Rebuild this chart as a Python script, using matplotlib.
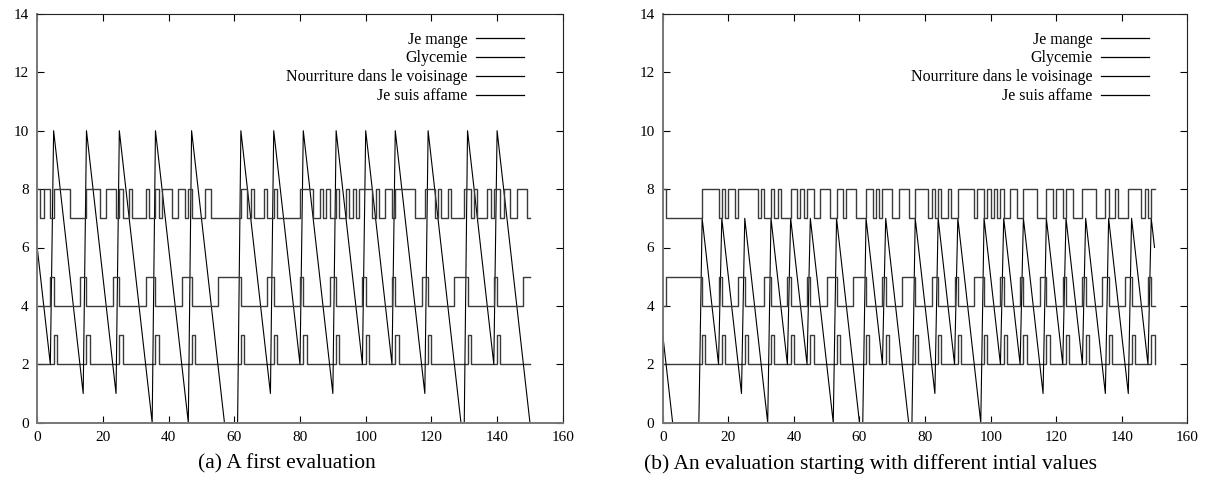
import matplotlib
matplotlib.use("Agg")
import matplotlib.pyplot as plt

# ---------------- data : panel (a) ----------------
a_gly_x = [0, 4, 5, 14, 15, 24, 25, 35, 36, 46, 47, 57, 61, 62, 71, 72, 80, 81, 90, 91,
           99, 100, 108, 109, 118, 119, 129, 130, 131, 139, 140, 150]
a_gly_y = [6, 2, 10, 1, 10, 1, 10, 0, 10, 0, 10, 0, 0, 10, 1, 10, 2, 10, 1, 10,
           2, 10, 2, 10, 1, 10, 0, 0, 10, 2, 10, 0]

a_mange_x = [0, 5, 6, 15, 16, 25, 26, 36, 37, 47, 48, 62, 63, 72, 73, 81, 82, 91, 92,
             100, 101, 109, 110, 119, 120, 131, 132, 140, 141, 150]
a_mange_y = [2, 3, 2, 3, 2, 3, 2, 3, 2, 3, 2, 3, 2, 3, 2, 3, 2, 3, 2,
             3, 2, 3, 2, 3, 2, 3, 2, 3, 2, 2]

a_nour_x = [0, 4, 5, 13, 15, 23, 25, 33, 36, 44, 47, 55, 62, 70, 72, 80, 81, 89, 91,
            99, 100, 108, 109, 117, 119, 127, 131, 139, 140, 148, 150]
a_nour_y = [4, 5, 4, 5, 4, 5, 4, 5, 4, 5, 4, 5, 4, 5, 4, 5, 4, 5, 4,
            5, 4, 5, 4, 5, 4, 5, 4, 5, 4, 5, 5]

a_aff_x = [0, 1, 2, 4, 5, 10, 15, 19, 21, 24, 25, 26, 28, 29, 33, 34, 36, 37, 38, 41,
           43, 45, 46, 47, 51, 53, 62, 64, 65, 66, 69, 70, 72, 73, 80, 84, 86, 87, 88,
           89, 91, 92, 94, 95, 96, 97, 98, 102, 103, 104, 106, 108, 109, 115, 118, 121,
           122, 123, 125, 126, 130, 132, 133, 134, 137, 138, 139, 141, 142, 144, 146,
           149, 150]
a_aff_y = [8, 7, 8, 7, 8, 7, 8, 7, 8, 7, 8, 7, 8, 7, 8, 7, 8, 7, 8, 7,
           8, 7, 8, 7, 8, 7, 8, 7, 8, 7, 8, 7, 8, 7, 8, 7, 8, 7, 8,
           7, 8, 7, 8, 7, 8, 7, 8, 7, 8, 7, 8, 7, 8, 7, 8, 7,
           8, 7, 8, 7, 8, 7, 8, 7, 8, 7, 8, 7, 8, 7, 8,
           7, 7]

# ---------------- data : panel (b) ----------------
b_gly_x = [0, 3, 11, 12, 17, 18, 24, 25, 32, 33, 38, 39, 44, 45, 52, 53, 60, 61, 62, 67,
           68, 75, 76, 77, 83, 84, 89, 90, 97, 98, 103, 104, 109, 110, 116, 117, 122,
           123, 128, 129, 135, 136, 142, 143, 148, 149, 150]
b_gly_y = [3, 0, 0, 7, 2, 7, 1, 7, 0, 7, 2, 7, 2, 7, 0, 7, 0, 0, 7, 2,
           7, 0, 0, 7, 1, 7, 2, 7, 0, 7, 2, 7, 2, 7, 1, 7, 2,
           7, 2, 7, 1, 7, 1, 7, 2, 7, 6]

b_mange_x = [0, 12, 13, 18, 19, 25, 26, 33, 34, 39, 40, 45, 46, 53, 54, 62, 63, 68, 69,
             77, 78, 84, 85, 90, 91, 98, 99, 104, 105, 110, 111, 117, 118, 123, 124,
             129, 130, 136, 137, 143, 144, 149, 150]
b_mange_y = [2, 3, 2, 3, 2, 3, 2, 3, 2, 3, 2, 3, 2, 3, 2, 3, 2, 3, 2,
             3, 2, 3, 2, 3, 2, 3, 2, 3, 2, 3, 2, 3, 2, 3, 2,
             3, 2, 3, 2, 3, 2, 3, 2]

b_nour_x = [0, 1, 12, 17, 18, 23, 25, 31, 33, 38, 39, 44, 45, 50, 53, 58, 62, 67, 68,
            73, 77, 82, 84, 89, 90, 95, 98, 103, 104, 109, 110, 115, 117, 122, 123,
            128, 129, 134, 136, 141, 143, 148, 149, 150]
b_nour_y = [4, 5, 4, 5, 4, 5, 4, 5, 4, 5, 4, 5, 4, 5, 4, 5, 4, 5, 4,
            5, 4, 5, 4, 5, 4, 5, 4, 5, 4, 5, 4, 5, 4, 5, 4,
            5, 4, 5, 4, 5, 4, 5, 4, 4]

b_aff_x = [0, 1, 12, 17, 18, 19, 20, 22, 23, 29, 30, 31, 33, 34, 35, 36, 39, 41, 42, 43,
           44, 46, 48, 51, 53, 55, 56, 59, 62, 64, 65, 66, 67, 70, 72, 75, 77, 81, 82,
           83, 84, 85, 87, 88, 90, 95, 96, 98, 99, 100, 101, 102, 103, 104, 106, 108,
           110, 114, 117, 119, 120, 122, 123, 125, 128, 132, 135, 136, 138, 139, 142,
           146, 147, 148, 149, 150]
b_aff_y = [8, 7, 8, 7, 8, 7, 8, 7, 8, 7, 8, 7, 8, 7, 8, 7, 8, 7, 8, 7,
           8, 7, 8, 7, 8, 7, 8, 7, 8, 7, 8, 7, 8, 7, 8, 7, 8, 7, 8,
           7, 8, 7, 8, 7, 8, 7, 8, 7, 8, 7, 8, 7, 8, 7, 8, 7,
           8, 7, 8, 7, 8, 7, 8, 7, 8, 7, 8, 7, 8, 7, 8,
           7, 8, 7, 8, 8]

labels = ["Je mange", "Glycemie", "Nourriture dans le voisinage", "Je suis affame"]
x_ticks = [0, 20, 40, 60, 80, 100, 120, 140, 160]
y_ticks = [0, 2, 4, 6, 8, 10, 12, 14]
captions = ["(a) A first evaluation",
            "(b) An evaluation starting with different intial values"]

panels = [
    (a_mange_x, a_mange_y, a_gly_x, a_gly_y, a_nour_x, a_nour_y, a_aff_x, a_aff_y),
    (b_mange_x, b_mange_y, b_gly_x, b_gly_y, b_nour_x, b_nour_y, b_aff_x, b_aff_y),
]

W, H = 1209, 493
fig = plt.figure(figsize=(W / 100, H / 100), dpi=100)
tick_font = "Liberation Serif"

axes_rects = [
    [37.2 / W, (H - 422.7) / H, 525.6 / W, 408.8 / H],
    [662.8 / W, (H - 422.7) / H, 524.5 / W, 408.8 / H],
]
caption_x = [287 / W, 870 / W]

step_col = "#3a3a3a"
for i, (rect, data) in enumerate(zip(axes_rects, panels)):
    mx, my, gx, gy, nx, ny, fx, fy = data
    ax = fig.add_axes(rect)
    l1, = ax.plot(mx, my, drawstyle="steps-post", color=step_col, lw=1.0)
    l2, = ax.plot(gx, gy, color="black", lw=0.8)
    l3, = ax.plot(nx, ny, drawstyle="steps-post", color=step_col, lw=1.0)
    l4, = ax.plot(fx, fy, drawstyle="steps-post", color=step_col, lw=1.0)
    ax.set_xlim(0, 160)
    ax.set_ylim(0, 14)
    ax.set_xticks(x_ticks)
    ax.set_yticks(y_ticks)
    ax.tick_params(direction="in", top=True, right=True, length=5, width=0.8,
                   labelsize=11, pad=6)
    for lab in ax.get_xticklabels() + ax.get_yticklabels():
        lab.set_fontfamily(tick_font)
    for s in ["top", "right"]:
        ax.spines[s].set_linewidth(0.8)
        ax.spines[s].set_color("#222222")
    for s in ["bottom", "left"]:
        ax.spines[s].set_linewidth(1.4)
        ax.spines[s].set_color("#777777")
        ax.spines[s].set_linestyle((0, (1, 1)))
    leg = ax.legend([l1, l2, l3, l4], labels, loc="upper right",
                    bbox_to_anchor=(0.948, 0.984), frameon=False,
                    markerfirst=False, alignment="right",
                    handlelength=3.0, handletextpad=0.55, labelspacing=0.18,
                    borderpad=0.2,
                    prop={"family": tick_font, "size": 11.5})
    for h in leg.get_lines():
        h.set_color("black")
        h.set_linewidth(0.9)
    fig.text(caption_x[i], (H - 464) / H, captions[i], ha="center", va="center",
             fontsize=15.5, family="Liberation Serif")

fig.savefig("out.png", dpi=100)
